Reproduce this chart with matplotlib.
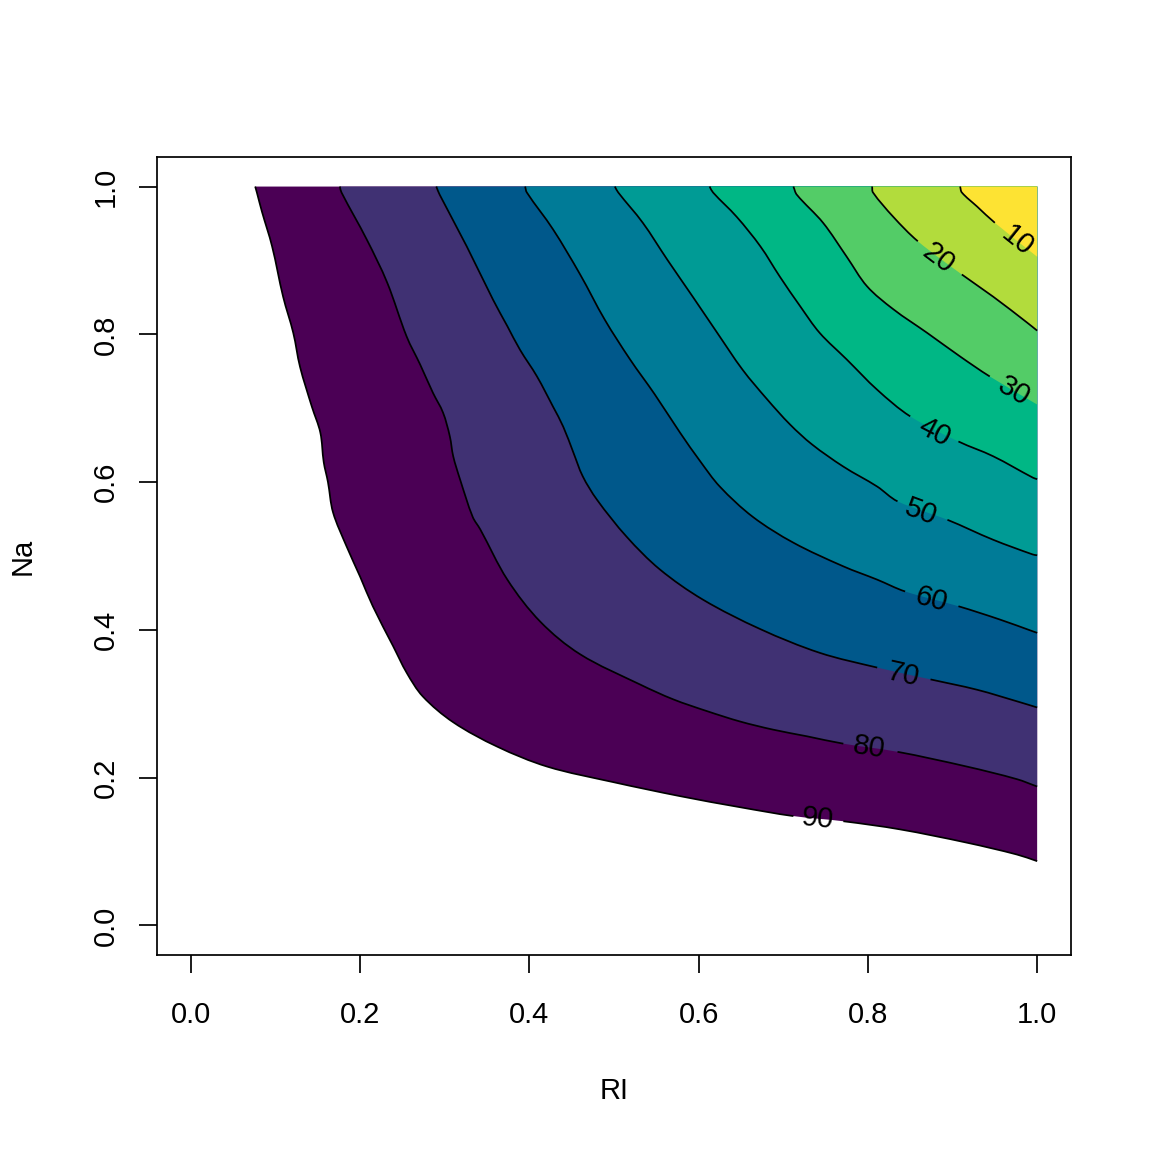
import math
import matplotlib
matplotlib.use("Agg")
import matplotlib.pyplot as plt
from matplotlib.path import Path
from matplotlib.patches import PathPatch
import numpy as np

plt.rcParams['font.family'] = ['Liberation Sans', 'DejaVu Sans']

# ---- data (RI on x, Na on y) ----
levels = [10, 20, 30, 40, 50, 60, 70, 80, 90]

c10_x = [0.909, 0.911, 0.929, 0.950, 1.000]
c10_y = [1.000, 0.992, 0.973, 0.951, 0.905]

c20_x = [0.805, 0.806, 0.830, 0.859, 0.911, 0.948, 0.988, 1.000]
c20_y = [1.000, 0.992, 0.959, 0.926, 0.881, 0.851, 0.816, 0.805]

c30_x = [0.712, 0.716, 0.747, 0.775, 0.799, 0.830, 0.870, 0.909, 0.944, 1.000]
c30_y = [1.000, 0.989, 0.951, 0.905, 0.865, 0.834, 0.802, 0.770, 0.743, 0.705]

c40_x = [0.613, 0.617, 0.645, 0.673, 0.696, 0.720, 0.743, 0.775, 0.811, 0.850,
         0.907, 0.948, 0.995, 1.000]
c40_y = [1.000, 0.992, 0.959, 0.919, 0.878, 0.838, 0.802, 0.766, 0.725, 0.689,
         0.655, 0.635, 0.606, 0.604]

c50_x = [0.501, 0.505, 0.534, 0.563, 0.593, 0.622, 0.652, 0.681, 0.708, 0.734,
         0.771, 0.811, 0.835, 0.894, 0.948, 0.995, 1.000]
c50_y = [1.000, 0.992, 0.951, 0.901, 0.851, 0.802, 0.752, 0.712, 0.678, 0.651,
         0.621, 0.594, 0.574, 0.549, 0.522, 0.502, 0.501]

c60_x = [0.395, 0.397, 0.428, 0.460, 0.489, 0.519, 0.548, 0.578, 0.602, 0.625,
         0.664, 0.712, 0.771, 0.811, 0.844, 0.907, 0.956, 0.995, 1.000]
c60_y = [1.000, 0.992, 0.942, 0.881, 0.820, 0.766, 0.719, 0.667, 0.628, 0.594,
         0.553, 0.518, 0.486, 0.468, 0.452, 0.432, 0.414, 0.398, 0.396]

c70_x = [0.290, 0.294, 0.326, 0.357, 0.374, 0.389, 0.409, 0.428, 0.440, 0.452,
         0.463, 0.480, 0.515, 0.554, 0.605, 0.673, 0.743, 0.811, 0.874,
         0.929, 0.980, 1.000]
c70_y = [1.000, 0.989, 0.919, 0.847, 0.811, 0.779, 0.743, 0.702, 0.675, 0.640,
         0.608, 0.576, 0.526, 0.482, 0.441, 0.401, 0.369, 0.349, 0.333,
         0.319, 0.302, 0.295]

c80_x = [0.176, 0.178, 0.208, 0.232, 0.255, 0.271, 0.286, 0.298, 0.306, 0.310,
         0.318, 0.333, 0.342, 0.374, 0.413, 0.460, 0.531, 0.570, 0.610, 0.649,
         0.688, 0.728, 0.771, 0.835, 0.917, 0.976, 1.000]
c80_y = [1.000, 0.992, 0.928, 0.870, 0.797, 0.759, 0.721, 0.694, 0.662, 0.635,
         0.604, 0.553, 0.536, 0.468, 0.411, 0.367, 0.326, 0.306, 0.290, 0.276,
         0.265, 0.256, 0.246, 0.235, 0.215, 0.198, 0.188]

c90_x = [0.076, 0.078, 0.084, 0.096, 0.109, 0.121, 0.129, 0.143, 0.153, 0.157,
         0.162, 0.168, 0.184, 0.200, 0.215, 0.239, 0.255, 0.274, 0.310, 0.362,
         0.421, 0.499, 0.578, 0.649, 0.712, 0.771, 0.838, 0.917, 0.976, 1.000]
c90_y = [1.000, 0.992, 0.966, 0.919, 0.851, 0.802, 0.756, 0.702, 0.667, 0.627,
         0.600, 0.559, 0.513, 0.472, 0.432, 0.378, 0.342, 0.310, 0.275, 0.242,
         0.215, 0.194, 0.175, 0.160, 0.148, 0.141, 0.130, 0.112, 0.096, 0.087]

# segment index after which the line is broken by its label
label_gap = [3, 3, 8, 9, 12, 14, 17, 22, 24]
label_x = [0.976, 0.883, 0.972, 0.878, 0.863, 0.875, 0.842, 0.801, 0.741]
label_y = [0.926, 0.903, 0.723, 0.668, 0.560, 0.441, 0.340, 0.241, 0.145]

tick_vals = [0.0, 0.2, 0.4, 0.6, 0.8, 1.0]
tick_labels = ["0.0", "0.2", "0.4", "0.6", "0.8", "1.0"]
x_name = "RI"
y_name = "Na"

lines_x = [c10_x, c20_x, c30_x, c40_x, c50_x, c60_x, c70_x, c80_x, c90_x]
lines_y = [c10_y, c20_y, c30_y, c40_y, c50_y, c60_y, c70_y, c80_y, c90_y]


# ---- colours: R hcl.colors(9, "viridis") ----
def hcl_rgb(h, c, l):
    Xn, Yn, Zn = 95.047, 100.0, 108.883
    Y = Yn * ((l + 16) / 116) ** 3 if l > 8 else Yn * l / 903.3
    U = c * math.cos(math.radians(h))
    V = c * math.sin(math.radians(h))
    den = Xn + 15 * Yn + 3 * Zn
    un, vn = 4 * Xn / den, 9 * Yn / den
    u = U / (13 * l) + un
    v = V / (13 * l) + vn
    X = 9.0 * Y * u / (4 * v)
    Z = -X / 3 - 5 * Y + 3 * Y / v
    X, Y, Z = X / 100, Y / 100, Z / 100
    r = 3.240479 * X - 1.537150 * Y - 0.498535 * Z
    g = -0.969256 * X + 1.875992 * Y + 0.041556 * Z
    b = 0.055648 * X - 0.204043 * Y + 1.057311 * Z
    out = []
    for ch in (r, g, b):
        ch = 12.92 * ch if ch <= 0.0031308 else 1.055 * max(ch, 0) ** (1 / 2.4) - 0.055
        out.append(min(1.0, max(0.0, ch)))
    return tuple(out)


def viridis_hcl(i):
    h = 75 - (75 - 300) * i
    c = 95 - (95 - 40) * i
    l = 90 - (90 - 15) * i ** 1.1
    return hcl_rgb(h, c, l)


band_cols = [viridis_hcl(m / 8) for m in range(9)]  # band 0-10 ... 80-90


# ---- smooth rendering of the traced lines (chord-length Hermite -> Bezier) ----
SX, SY = 846.0, 739.0


def bezier_ctrl(xs, ys):
    P = np.column_stack([np.asarray(xs) * SX, np.asarray(ys) * SY])
    n = len(P)
    T = np.zeros_like(P)
    for i in range(n):
        if i == 0:
            d = P[1] - P[0]
        elif i == n - 1:
            d = P[-1] - P[-2]
        else:
            d = P[i + 1] - P[i - 1]
        T[i] = d / np.linalg.norm(d)
    segs = []
    for i in range(n - 1):
        L = np.linalg.norm(P[i + 1] - P[i])
        c1 = P[i] + T[i] * L / 3
        c2 = P[i + 1] - T[i + 1] * L / 3
        segs.append((c1, c2))
    return P, segs


def to_data(p):
    return (p[0] / SX, p[1] / SY)


def curve_path(xs, ys, a, b, close_corner=False):
    P, segs = bezier_ctrl(xs, ys)
    verts = [to_data(P[a])]
    codes = [Path.MOVETO]
    for i in range(a, b):
        c1, c2 = segs[i]
        verts += [to_data(c1), to_data(c2), to_data(P[i + 1])]
        codes += [Path.CURVE4] * 3
    if close_corner:
        verts += [(1.0, 1.0), to_data(P[a])]
        codes += [Path.LINETO, Path.CLOSEPOLY]
    return Path(verts, codes)


# ---- figure ----
W = 1152
fig = plt.figure(figsize=(11.52, 11.52), dpi=100)
ax = fig.add_axes([157 / W, 1 - 955 / W, (1071 - 157) / W, (955 - 157) / W])
ax.set_xlim(-0.04, 1.04)
ax.set_ylim(-0.04, 1.04)

# filled regions: region "below level L" lies towards the top-right corner
for k in range(len(levels) - 1, -1, -1):
    xs, ys = lines_x[k], lines_y[k]
    path = curve_path(xs, ys, 0, len(xs) - 1, close_corner=True)
    ax.add_patch(PathPatch(path, facecolor=band_cols[k], edgecolor="none",
                           lw=0, zorder=1))

lw = 1.25
for k in range(len(levels)):
    xs, ys = lines_x[k], lines_y[k]
    g = label_gap[k]
    ax.add_patch(PathPatch(curve_path(xs, ys, 0, g), facecolor="none",
                           edgecolor="black", lw=lw, zorder=2))
    if len(xs) - 1 - (g + 1) >= 1:
        ax.add_patch(PathPatch(curve_path(xs, ys, g + 1, len(xs) - 1),
                               facecolor="none", edgecolor="black", lw=lw,
                               zorder=2))

fig.canvas.draw()
for k in range(len(levels)):
    g = label_gap[k]
    xs, ys = lines_x[k], lines_y[k]
    p0 = ax.transData.transform((xs[g], ys[g]))
    p1 = ax.transData.transform((xs[g + 1], ys[g + 1]))
    ang = math.degrees(math.atan2(p1[1] - p0[1], p1[0] - p0[0]))
    ax.text(label_x[k], label_y[k], str(levels[k]), fontsize=21,
            rotation=ang, rotation_mode="anchor", ha="center", va="center",
            color="black", zorder=3)

for s in ax.spines.values():
    s.set_linewidth(1.25)
ax.set_xticks(tick_vals)
ax.set_xticklabels(tick_labels)
ax.set_yticks(tick_vals)
ax.set_yticklabels(tick_labels, rotation=90, va="center")
ax.tick_params(axis="both", direction="out", length=13, width=1.25,
               labelsize=21)
ax.tick_params(axis="x", pad=20)
ax.tick_params(axis="y", pad=14)

ax.set_xlabel(x_name, fontsize=21)
ax.set_ylabel(y_name, fontsize=21)
ax.xaxis.set_label_coords(0.5, (955 - 1091) / 798)
ax.xaxis.label.set_va("center")
ax.yaxis.set_label_coords((23 - 157) / 914, 0.5)
ax.yaxis.label.set_va("center")

fig.savefig("out.png", dpi=100)
